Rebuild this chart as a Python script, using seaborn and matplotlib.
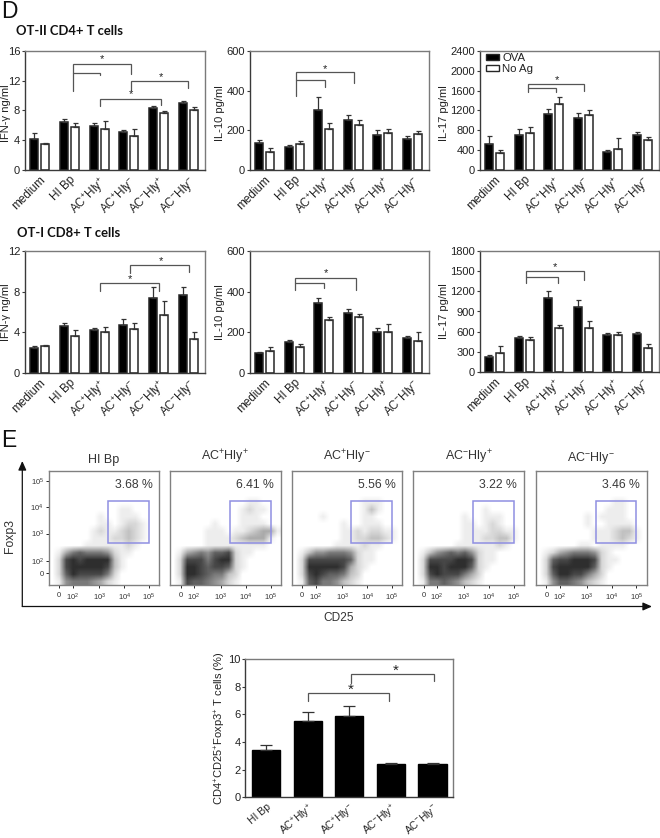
import numpy as np
import pandas as pd
import matplotlib
matplotlib.use("Agg")
import matplotlib.pyplot as plt
from matplotlib.lines import Line2D
from matplotlib.patches import Rectangle, Patch
import seaborn as sns

W, H = 660, 838

CATS_A = ["medium", "HI Bp", "AC$^{+}$Hly$^{+}$", "AC$^{+}$Hly$^{-}$", "AC$^{-}$Hly$^{+}$", "AC$^{-}$Hly$^{-}$"]
CATS_B = ["HI Bp", "AC$^{+}$Hly$^{+}$", "AC$^{+}$Hly$^{-}$", "AC$^{-}$Hly$^{+}$", "AC$^{-}$Hly$^{-}$"]
SERIES = ["OVA", "No Ag"]

# Row 1 : OT-II CD4+
ifn4_ova = [4.17, 6.5, 5.96, 5.16, 8.39, 8.97]
ifn4_ova_top = [4.93, 6.8, 6.28, 5.34, 8.6, 9.33]
ifn4_no = [3.45, 5.83, 5.56, 4.57, 7.62, 8.07]
ifn4_no_top = [3.6, 6.37, 6.55, 5.47, 7.98, 8.43]

il10_4_ova = [134, 116, 304, 252, 178, 158]
il10_4_ova_top = [150, 128, 366, 279, 200, 170]
il10_4_no = [89, 133, 205, 225, 187, 180]
il10_4_no_top = [109, 145, 235, 250, 205, 195]

il17_4_ova = [534, 710, 1129, 1041, 365, 710]
il17_4_ova_top = [690, 818, 1230, 1149, 412, 771]
il17_4_no = [338, 737, 1332, 1115, 426, 608]
il17_4_no_top = [399, 865, 1474, 1210, 642, 669]

# Row 2 : OT-I CD8+
ifn8_ova = [2.49, 4.62, 4.23, 4.72, 7.34, 7.67]
ifn8_ova_top = [2.69, 4.89, 4.39, 5.31, 8.43, 8.46]
ifn8_no = [2.69, 3.64, 4.07, 4.3, 5.74, 3.34]
ifn8_no_top = [2.75, 4.23, 4.52, 4.95, 7.11, 4.03]

il10_8_ova = [98, 152, 346, 295, 202, 170]
il10_8_ova_top = [105, 162, 369, 315, 221, 182]
il10_8_no = [110, 129, 262, 277, 203, 159]
il10_8_no_top = [128, 141, 275, 290, 241, 200]

il17_8_ova = [222, 499, 1103, 964, 554, 559]
il17_8_ova_top = [247, 539, 1202, 1078, 574, 598]
il17_8_no = [277, 470, 653, 653, 544, 351]
il17_8_no_top = [381, 524, 697, 752, 598, 410]

# Bottom bar chart
treg = [3.45, 5.5, 5.85, 2.4, 2.4]
treg_top = [3.8, 6.15, 6.6, 2.5, 2.45]

# Flow cytometry: density on a coarse grid (rows from top, 0 = white, 9 = black)
FACS_NAMES = ["HI Bp", "AC$^{+}$Hly$^{+}$", "AC$^{+}$Hly$^{-}$", "AC$^{-}$Hly$^{+}$", "AC$^{-}$Hly$^{-}$"]
FACS_PCT = ["3.68 %", "6.41 %", "5.56 %", "3.22 %", "3.46 %"]
BLANK = "0000000000000000"
facs_hi = [BLANK, BLANK, BLANK, BLANK, BLANK,
           "0000000000110000", "0000000100111000", "0000000110122100",
           "0000001211232100", "0000001112232100", "0000011111121000", "0146766652110000",
           "0289899993100000", "0289999983100000", "0279888862000000", "0156665421000000"]
facs_pp = [BLANK, BLANK, BLANK, BLANK,
           "0000000000011000", "0000000000121100", "0000000000111000", "0000001000111100",
           "0000011101123441", "0000011112344410", "0000011111111100", "0145657782110000",
           "0288868992100000", "0299878872100000", "0299876632000000", "0187765421000000"]
facs_pm = [BLANK, BLANK, BLANK, BLANK,
           "0000000000111000", "0000000000131000", "0000100000110000", "0000000100111000",
           "0000000112122110", "0000000112233210", "0000001111211000", "0135566652110000",
           "0288888872110000", "0299999842100000", "0289877632000000", "0178665321000000"]
facs_mp = [BLANK, BLANK, BLANK, BLANK, BLANK,
           "0000000000100000", "0000000100111000", "0000000110121000",
           "0000000111122110", "0000000111223310", "0000001111112100", "0135676752110000",
           "0288889982110000", "0299899972100000", "0289888642000000", "0166765321000000"]
facs_mm = [BLANK, BLANK, BLANK, BLANK,
           "0000000000011000", "0000000000111000", "0000000101111000", "0000000100111100",
           "0000000011123310", "0000000011123210", "0000001101111000", "0124566652100000",
           "0278899982110000", "0289999972100000", "0279988642000000", "0157765321000000"]
FACS_GRIDS = [facs_hi, facs_pp, facs_pm, facs_mp, facs_mm]
FACS_XTICKLABELS = ["0", "10$^{2}$", "10$^{3}$", "10$^{4}$", "10$^{5}$"]
FACS_YTICKLABELS = ["0", "10$^{2}$", "10$^{3}$", "10$^{4}$", "10$^{5}$"]

sns.set_theme(style="white")
plt.rcParams.update({
    "font.family": ["Liberation Sans", "DejaVu Sans"],
    "mathtext.fontset": "custom",
    "mathtext.rm": "Liberation Sans",
    "mathtext.default": "regular",
    "axes.linewidth": 1.0,
})

fig = plt.figure(figsize=(W / 100, H / 100), dpi=100, facecolor="white")
AX_DARK = "#3a3a3a"
SPINE = "#7a7a7a"
BRK = "#555555"
TXT = "#222222"


def add_ax(x0, y0, x1, y1):
    return fig.add_axes([x0 / W, 1 - y1 / H, (x1 - x0) / W, (y1 - y0) / H])


def fx(x):
    return x / W


def fy(y):
    return 1 - y / H


def poly(pts, color=BRK, lw=0.9):
    fig.add_artist(Line2D([fx(p[0]) for p in pts], [fy(p[1]) for p in pts], color=color, lw=lw,
                          solid_joinstyle="miter"))


def star(x, y, size=8):
    fig.text(fx(x), fy(y), "*", ha="center", va="center", fontsize=size, color=TXT)


def style_axis(ax, ylim, yticks, ylabel, lab_x, lab_y, xpad=3, rot=45, xsize=8.5):
    ax.set_ylim(*ylim)
    ax.set_yticks(yticks)
    ax.tick_params(axis="y", length=2.5, width=0.8, color=AX_DARK, labelsize=8, labelcolor=TXT, pad=1, left=True)
    ax.tick_params(axis="x", length=0, labelsize=xsize, labelcolor=TXT, pad=xpad, bottom=False)
    plt.setp(ax.get_xticklabels(), rotation=rot, ha="right", rotation_mode="anchor")
    ax.set_xlabel("")
    ax.set_ylabel(ylabel, fontsize=8, color=TXT, va="center")
    ax.yaxis.set_label_coords(lab_x, lab_y)
    for s in ["top", "right"]:
        ax.spines[s].set_visible(True)
        ax.spines[s].set_color(SPINE)
        ax.spines[s].set_linewidth(1.0)
    for s in ["left", "bottom"]:
        ax.spines[s].set_visible(True)
        ax.spines[s].set_color(AX_DARK)
        ax.spines[s].set_linewidth(1.0)


def grouped(box, ova, ova_top, no, no_top, ylim, yticks, ylabel, lab_x, lab_y):
    ax = add_ax(*box)
    df = pd.DataFrame({
        "cat": CATS_A * 2,
        "value": ova + no,
        "antigen": [SERIES[0]] * len(ova) + [SERIES[1]] * len(no),
    })
    sns.barplot(data=df, x="cat", y="value", hue="antigen", order=CATS_A, hue_order=SERIES,
                palette={"OVA": "black", "No Ag": "white"}, edgecolor="#262626", linewidth=1.1,
                width=0.74, gap=0.27, errorbar=None, legend=False, saturation=1, ax=ax)
    for cont, tops, vals in zip(ax.containers, [ova_top, no_top], [ova, no]):
        for bar, t, v in zip(cont, tops, vals):
            ax.errorbar(bar.get_x() + bar.get_width() / 2, v, yerr=[[0], [t - v]], color="#333333",
                        elinewidth=0.9, capsize=1.8, capthick=0.9, zorder=1.5)
    ax.set_xlim(-0.505, 5.57)
    style_axis(ax, ylim, yticks, ylabel, lab_x, lab_y)
    return ax


# ---------- panel D ----------
fig.text(fx(1), fy(18), "D", fontsize=16.5, color="#111111", ha="left", va="baseline")
fig.text(fx(16), fy(35), "OT-II CD4+ T cells", fontsize=9.4, fontweight="bold", family="Lato", color="#111111")
fig.text(fx(17), fy(237), "OT-I CD8+ T cells", fontsize=9.4, fontweight="bold", family="Lato", color="#111111")

grouped((25, 51, 205, 170), ifn4_ova, ifn4_ova_top, ifn4_no, ifn4_no_top, (0, 16), [0, 4, 8, 12, 16],
        "IFN-γ ng/ml", -0.108, 0.48)
grouped((250, 51, 429, 170), il10_4_ova, il10_4_ova_top, il10_4_no, il10_4_no_top, (0, 600), [0, 200, 400, 600],
        "IL-10 pg/ml", -0.168, 0.48)
ax3 = grouped((480, 51, 659, 170), il17_4_ova, il17_4_ova_top, il17_4_no, il17_4_no_top, (0, 2400),
              [0, 400, 800, 1200, 1600, 2000, 2400], "IL-17 pg/ml", -0.2, 0.48)
ax3.legend(handles=[Patch(facecolor="black", edgecolor="#262626", lw=1, label="OVA"),
                    Patch(facecolor="white", edgecolor="#262626", lw=1, label="No Ag")],
           loc="upper left", bbox_to_anchor=(0.032, 0.98), frameon=False, fontsize=8.2, handlelength=1.15,
           handleheight=0.45, handletextpad=0.3, labelspacing=0.05, borderpad=0, borderaxespad=0,
           labelcolor=TXT)

grouped((25, 251, 205, 373), ifn8_ova, ifn8_ova_top, ifn8_no, ifn8_no_top, (0, 12), [0, 4, 8, 12],
        "IFN-γ ng/ml", -0.103, 0.5)
grouped((250, 251, 429, 373), il10_8_ova, il10_8_ova_top, il10_8_no, il10_8_no_top, (0, 600), [0, 200, 400, 600],
        "IL-10 pg/ml", -0.168, 0.5)
grouped((480, 251, 659, 372), il17_8_ova, il17_8_ova_top, il17_8_no, il17_8_no_top, (0, 1800),
        [0, 300, 600, 900, 1200, 1500, 1800], "IL-17 pg/ml", -0.2, 0.5)

# significance brackets, row 1
poly([(72.7, 90.7), (72.7, 64), (131, 64), (131, 73.7)])
poly([(72.7, 73.3), (100, 73.3), (100, 75)])
poly([(131, 90), (131, 81), (188, 81), (188, 88)])
poly([(100, 106), (100, 98.7), (160.7, 98.7), (160.7, 105)])
star(102.3, 59.5); star(160.7, 77.5); star(131.3, 94.5)
poly([(295.7, 96), (295.7, 72.3), (354.3, 72.3), (354.3, 82.7)])
poly([(295.7, 79.7), (325, 79.7), (325, 87.3)])
star(325, 69)
poly([(527.7, 92), (527.7, 84.3), (584, 84.3), (584, 91.3)])
poly([(527.7, 88.3), (556, 88.3), (556, 92.3)])
star(557.3, 80.5)
# significance brackets, row 2
poly([(129.7, 273.3), (129.7, 264.7), (188.7, 264.7), (188.7, 272.3)])
poly([(100.3, 290.7), (100.3, 283), (159, 283), (159, 290.7)])
star(160.7, 261); star(130.3, 279.5)
poly([(295.3, 290), (295.3, 278.3), (356, 278.3), (356, 290)])
poly([(295.3, 283.3), (324.3, 283.3), (324.3, 288)])
star(325.7, 273.5)
poly([(525.7, 283.3), (525.7, 271.3), (584.3, 271.3), (584.3, 280.3)])
poly([(525.7, 277), (558.3, 277), (558.3, 283.3)])
star(555.3, 267)

# ---------- panel E ----------
fig.text(fx(1), fy(447), "E", fontsize=16.5, color="#111111", ha="left", va="baseline")
FACS_BOXES = [(48.7, 159), (170, 280.7), (291.7, 402), (413, 524), (535.7, 646.7)]
xt = [0.096, 0.217, 0.458, 0.685, 0.908]
yt = [0.10, 0.21, 0.449, 0.684, 0.912]
for (x0, x1), grid, name, pct in zip(FACS_BOXES, FACS_GRIDS, FACS_NAMES, FACS_PCT):
    ax = add_ax(x0, 470.7, x1, 584.7)
    dens = np.array([[int(c) for c in row] for row in grid], float)
    ax.imshow(1 - (dens / 9) ** 1.1 * 0.82, cmap="gray", vmin=0, vmax=1, extent=(0, 1, 0, 1), aspect="auto",
              interpolation="bilinear", origin="upper")
    ax.set_xlim(0, 1)
    ax.set_ylim(0, 1)
    ax.set_xticks(xt)
    ax.set_xticklabels(FACS_XTICKLABELS)
    ax.set_yticks(yt)
    ax.set_yticklabels(FACS_YTICKLABELS)
    if x0 > 50:
        ax.tick_params(axis="y", labelleft=False, left=False)
    else:
        ax.tick_params(axis="y", left=True, length=2, width=0.7, labelsize=5.5, labelcolor="#333333", pad=1.5)
    ax.tick_params(axis="x", bottom=True, length=2, width=0.7, labelsize=5.5, labelcolor="#333333", pad=3)
    for s in ax.spines.values():
        s.set_visible(True)
        s.set_color("#808080")
        s.set_linewidth(1.0)
    ax.add_patch(Rectangle((0.54, 0.363), 0.368, 0.374, transform=ax.transAxes, fill=False,
                           edgecolor="#8f8fe2", lw=1.1))
    ax.text(0.94, 0.875, pct, transform=ax.transAxes, ha="right", va="center", fontsize=8.8, color="#3a3a3a")
    ax.text(0.5, 1.04, name, transform=ax.transAxes, ha="center", va="bottom", fontsize=9, color="#333333")

for tip in [(22.3, 461), (652, 606.5)]:
    fig.add_artist(plt.Annotation("", xy=(fx(tip[0]), fy(tip[1])), xytext=(fx(22.3), fy(606.5)),
                                  xycoords="figure fraction", textcoords="figure fraction",
                                  arrowprops=dict(arrowstyle="-|>,head_width=0.2,head_length=0.45", color="#111111",
                                                  lw=0.9, shrinkA=0, shrinkB=0)))
fig.text(fx(10), fy(536), "Foxp3", rotation=90, ha="center", va="center", fontsize=8.8, color="#333333")
fig.text(fx(339), fy(618), "CD25", ha="center", va="center", fontsize=8.6, color="#333333")

# ---------- bottom bar chart ----------
axb = add_ax(245.3, 659, 453.3, 797.3)
dfb = pd.DataFrame({"cat": CATS_B, "value": treg})
sns.barplot(data=dfb, x="cat", y="value", color="black", edgecolor="black", width=0.68, errorbar=None,
            saturation=1, ax=axb)
for bar, t, v in zip(axb.containers[0], treg_top, treg):
    axb.errorbar(bar.get_x() + bar.get_width() / 2, v, yerr=[[0], [t - v]], color="#333333",
                 elinewidth=0.9, capsize=4.5, capthick=0.9, zorder=1.5)
axb.set_xlim(-0.5, 4.5)
style_axis(axb, (0, 10), [0, 2, 4, 6, 8, 10], "CD4$^{+}$CD25$^{+}$Foxp3$^{+}$ T cells (%)", -0.12, 0.5,
           xpad=3, rot=40, xsize=7.5)
poly([(307.7, 700.7), (307.7, 693.3), (388.7, 693.3), (388.7, 700.7)])
poly([(350.7, 682.7), (350.7, 674), (434.3, 674), (434.3, 681.3)])
star(351, 690, 11); star(395.7, 671, 11)

fig.savefig("out.png", dpi=100, facecolor="white")
